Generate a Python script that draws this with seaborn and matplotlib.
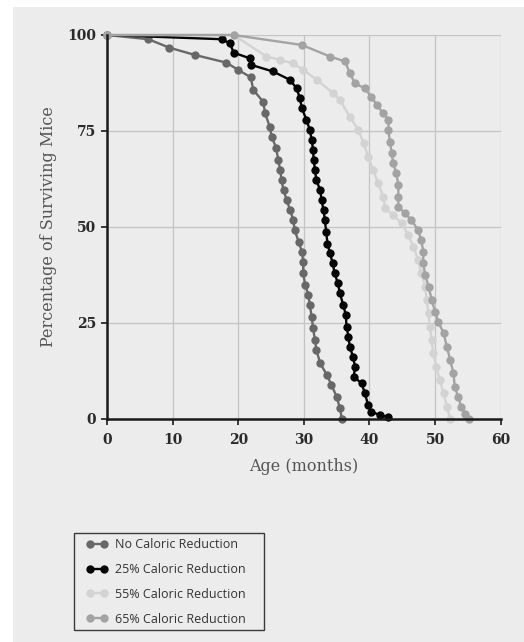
import matplotlib
matplotlib.use("Agg")
import matplotlib.pyplot as plt
import seaborn as sns
import pandas as pd
from matplotlib.patches import Rectangle

# ---- data ----
series_names = ["No Caloric Reduction", "25% Caloric Reduction",
                "55% Caloric Reduction", "65% Caloric Reduction"]

no_cr_age = [0, 6.3, 9.5, 13.4, 18.2, 19.9, 21.9, 22.3, 23.8, 24.1, 24.8, 25.1, 25.8, 26.1,
             26.4, 26.6, 26.9, 27.4, 27.9, 28.4, 28.6, 29.2, 29.7, 29.9, 29.9, 30.2, 30.7,
             30.9, 31.2, 31.4, 31.7, 31.9, 32.5, 33.5, 34.2, 35.0, 35.5, 35.8]
no_cr_pct = [100, 98.9, 96.7, 94.8, 92.8, 91.0, 89.0, 85.7, 82.6, 79.6, 76.1, 73.5, 70.5, 67.4,
             64.8, 62.2, 59.6, 57.0, 54.4, 51.8, 49.2, 46.2, 43.6, 41.0, 37.9, 34.9, 32.3,
             29.7, 26.6, 23.6, 20.6, 18.0, 14.5, 11.5, 8.9, 5.8, 2.8, 0.0]

cr25_age = [0, 17.5, 18.75, 19.3, 21.8, 22.0, 25.3, 27.9, 28.9, 29.4, 29.7, 30.4, 30.9, 31.2,
            31.4, 31.5, 31.7, 31.9, 32.5, 32.7, 33.0, 33.2, 33.4, 33.6, 34.0, 34.4, 34.7,
            35.2, 35.5, 36.0, 36.4, 36.5, 36.8, 37.0, 37.5, 37.8, 37.6, 38.8, 39.3, 39.8,
            40.3, 41.6, 42.9]
cr25_pct = [100, 98.9, 97.8, 95.4, 93.9, 92.2, 90.5, 88.3, 86.1, 83.5, 80.9, 77.9, 75.3, 72.7,
            70.1, 67.4, 64.8, 62.2, 59.6, 57.0, 54.4, 51.8, 48.8, 45.7, 43.1, 40.5, 37.9,
            35.3, 32.7, 29.7, 27.1, 24.0, 21.4, 18.8, 16.2, 13.6, 11.0, 9.3, 6.7, 3.6,
            1.9, 1.0, 0.5]

cr55_age = [0, 19.3, 24.3, 26.4, 28.4, 29.9, 32.0, 34.5, 35.5, 37.0, 38.3, 39.1, 39.8, 40.6,
            41.3, 42.1, 42.4, 43.6, 44.9, 45.9, 46.7, 47.4, 47.9, 48.5, 48.7, 49.0, 49.2,
            49.5, 49.7, 50.2, 50.7, 51.3, 51.8, 52.3]
cr55_pct = [100, 100, 94.4, 93.5, 92.6, 90.9, 88.3, 84.8, 83.1, 78.7, 75.3, 71.8, 68.3, 64.8,
            61.4, 57.9, 54.9, 53.1, 51.0, 47.9, 44.9, 41.4, 37.9, 34.5, 31.0, 27.5, 24.0,
            20.6, 17.1, 13.6, 10.2, 6.7, 3.2, 0.0]

cr65_age = [0, 19.3, 29.7, 34.0, 36.3, 37.0, 37.8, 39.3, 40.3, 41.1, 42.1, 42.9, 42.9, 43.1,
            43.4, 43.6, 44.1, 44.4, 44.4, 44.4, 45.4, 46.4, 47.4, 47.9, 48.2, 48.2, 48.5,
            49.0, 49.5, 50.0, 50.5, 51.3, 51.8, 52.3, 52.8, 53.0, 53.5, 54.0, 54.6, 55.1]
cr65_pct = [100, 100, 97.4, 94.4, 93.1, 90.0, 87.4, 86.1, 83.9, 81.8, 79.6, 77.9, 75.3, 72.2,
            69.2, 66.6, 64.0, 60.9, 57.9, 55.3, 53.6, 51.8, 49.2, 46.6, 43.6, 40.5, 37.5,
            34.5, 31.0, 27.9, 25.3, 22.3, 18.8, 15.4, 11.9, 8.4, 5.8, 3.2, 1.2, 0.0]

x_ticks = [0, 10, 20, 30, 40, 50, 60]
y_ticks = [0, 25, 50, 75, 100]

# ---- style ----
BG = "#ececec"
colors = ["#686868", "#050505", "#d3d3d3", "#a3a3a3"]

sns.set_style("white")
plt.rcParams["font.family"] = ["DejaVu Serif"]

W, H = 524, 642
fig = plt.figure(figsize=(W / 100, H / 100), dpi=100)
fig.patch.set_facecolor("white")
fig.patches.append(Rectangle((13 / W, 0), 1, 1 - 7 / H, transform=fig.transFigure,
                             facecolor=BG, edgecolor="none", zorder=-10))

ax = fig.add_axes([107 / W, 1 - 419 / H, (500.7 - 107) / W, (419 - 35) / H])
ax.set_facecolor(BG)

ages = [no_cr_age, cr25_age, cr55_age, cr65_age]
pcts = [no_cr_pct, cr25_pct, cr55_pct, cr65_pct]
order = [2, 3, 0, 1]
for i in order:
    df = pd.DataFrame({"age": ages[i], "pct": pcts[i]})
    sns.lineplot(data=df, x="age", y="pct", ax=ax, color=colors[i], marker="o",
                 markersize=6.0, markeredgewidth=0, linewidth=1.7, sort=False,
                 estimator=None, label=series_names[i], clip_on=False, zorder=3 + i)

ax.set_xlim(0, 60)
ax.set_ylim(0, 100)
ax.set_xticks(x_ticks)
ax.set_yticks(y_ticks)
ax.grid(True, color="#c4c4c4", linewidth=0.9)
ax.set_axisbelow(True)
for s in ["top", "right"]:
    ax.spines[s].set_visible(False)
for s in ["left", "bottom"]:
    ax.spines[s].set_color("#1a1a1a")
    ax.spines[s].set_linewidth(1.8)
    ax.spines[s].set_zorder(10)

ax.tick_params(axis="both", direction="out", length=4, width=1.2, color="#1a1a1a",
               labelsize=10, labelcolor="#2a2a2a")
ax.tick_params(axis="x", pad=6)
ax.tick_params(axis="y", pad=4)
ax.tick_params(axis="both", which="both", bottom=True, left=True)
for lab in ax.get_xticklabels() + ax.get_yticklabels():
    lab.set_fontweight("bold")

ax.set_xlabel("Age (months)", fontsize=11.5, color="#555555", labelpad=8)
ax.set_ylabel("Percentage of Surviving Mice", fontsize=11.5, color="#555555", labelpad=7)

leg_h, leg_l = ax.get_legend_handles_labels()
lab2h = dict(zip(leg_l, leg_h))
ax.get_legend().remove()

# legend frame
fig.patches.append(Rectangle((74 / W, 1 - 630 / H), 190 / W, 97 / H,
                             transform=fig.transFigure, facecolor=BG,
                             edgecolor="#3a3a3a", linewidth=1.0, zorder=1))
leg = fig.legend([lab2h[n] for n in series_names], series_names,
                 loc="upper left", bbox_to_anchor=(86 / W, 1 - 538 / H),
                 bbox_transform=fig.transFigure, numpoints=2, handlelength=1.76,
                 handletextpad=0.56, borderpad=0.0, borderaxespad=0.0,
                 labelspacing=0.95, frameon=False,
                 prop={"family": "Open Sans", "size": 9})
leg.set_zorder(5)
for t in leg.get_texts():
    t.set_color("#333333")

fig.savefig("out.png", dpi=100, facecolor=fig.get_facecolor())
